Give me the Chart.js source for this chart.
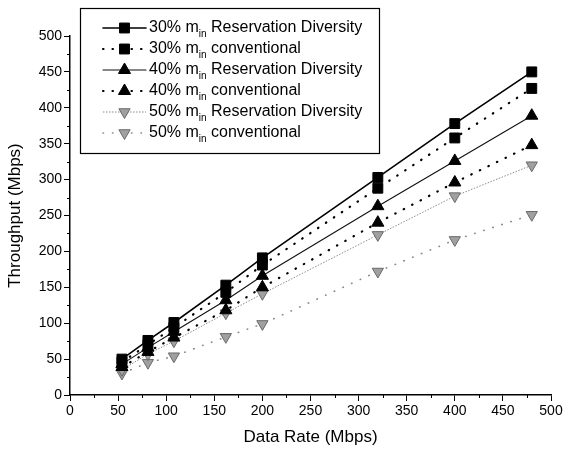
<!DOCTYPE html>
<html>
<head>
<meta charset="utf-8">
<script src="https://cdn.jsdelivr.net/npm/chart.js@4/dist/chart.umd.min.js"></script>
<style>
  html, body { margin: 0; padding: 0; background: #fff; }
  #wrap { width: 566px; height: 455px; position: relative; }
</style>
</head>
<body>
<div id="wrap"><canvas id="tputChart" width="566" height="455"></canvas></div>
<script>
// data rates (Mbps) on the x axis
var rates = [54, 81, 108, 162, 200, 320, 400, 480];

// throughput (Mbps)
var rd30   = [50, 76, 101, 153, 191, 303, 378, 450];
var conv30 = [46, 70, 94, 143, 181, 288, 358, 427];
var rd40   = [43, 66, 88, 132, 166, 263, 326, 389];
var conv40 = [39, 60, 80, 118, 150, 240, 296, 348];
var rd50   = [35, 57, 75, 114, 141, 223, 277, 320];
var conv50 = [30, 45, 54, 81, 99, 172, 216, 251];

var pct = ["30%", "30%", "40%", "40%", "50%", "50%"];
var kind = ["Reservation Diversity", "conventional", "Reservation Diversity", "conventional", "Reservation Diversity", "conventional"];

var xTicks = [0, 50, 100, 150, 200, 250, 300, 350, 400, 450, 500];
var yTicks = [0, 50, 100, 150, 200, 250, 300, 350, 400, 450, 500];

Chart.defaults.font.family = "'Liberation Sans', Arial, sans-serif";
Chart.defaults.color = "#000";

function pts(arr) {
  return arr.map(function (v, i) { return { x: rates[i], y: v }; });
}

function series(label, arr, style) {
  return Object.assign({
    label: label,
    data: pts(arr),
    showLine: true,
    fill: false,
    tension: 0,
    borderCapStyle: "round"
  }, style);
}

var datasets = [
  series("30% rd", rd30, { borderColor: "#000", borderWidth: 1.6, borderDash: [],
    pointStyle: "rect", pointRadius: 7, pointBackgroundColor: "#000", pointBorderColor: "#000", pointBorderWidth: 1 }),
  series("30% conv", conv30, { borderColor: "#000", borderWidth: 2.2, borderDash: [0.5, 9],
    pointStyle: "rect", pointRadius: 7, pointBackgroundColor: "#000", pointBorderColor: "#000", pointBorderWidth: 1 }),
  series("40% rd", rd40, { borderColor: "#111", borderWidth: 1.1, borderDash: [],
    pointStyle: "triangle", pointRadius: 7, pointBackgroundColor: "#000", pointBorderColor: "#000", pointBorderWidth: 1 }),
  series("40% conv", conv40, { borderColor: "#000", borderWidth: 2.2, borderDash: [0.5, 9],
    pointStyle: "triangle", pointRadius: 7, pointBackgroundColor: "#000", pointBorderColor: "#000", pointBorderWidth: 1 }),
  series("50% rd", rd50, { borderColor: "#8a8a8a", borderWidth: 1, borderDash: [1.5, 1.5], borderCapStyle: "butt",
    pointStyle: "triangle", pointRotation: 180, pointRadius: 6.5, pointBackgroundColor: "#a0a0a0", pointBorderColor: "#6a6a6a", pointBorderWidth: 1 }),
  series("50% conv", conv50, { borderColor: "#8a8a8a", borderWidth: 1.6, borderDash: [0.5, 9],
    pointStyle: "triangle", pointRotation: 180, pointRadius: 6.5, pointBackgroundColor: "#a0a0a0", pointBorderColor: "#6a6a6a", pointBorderWidth: 1 })
];

function drawMarker(ctx, ds, x, y) {
  var r = ds.pointRadius;
  ctx.save();
  ctx.fillStyle = ds.pointBackgroundColor;
  ctx.strokeStyle = ds.pointBorderColor;
  ctx.lineWidth = ds.pointBorderWidth;
  ctx.setLineDash([]);
  ctx.beginPath();
  if (ds.pointStyle === "rect") {
    var s = r * Math.SQRT1_2;
    ctx.rect(x - s, y - s, 2 * s, 2 * s);
  } else {
    var a = (ds.pointRotation || 0) * Math.PI / 180;
    for (var k = 0; k < 3; k++) {
      var ang = a + k * 2 * Math.PI / 3;
      var px = x + Math.sin(ang) * r, py = y - Math.cos(ang) * r;
      if (k === 0) ctx.moveTo(px, py); else ctx.lineTo(px, py);
    }
    ctx.closePath();
  }
  ctx.fill();
  ctx.stroke();
  ctx.restore();
}

// minor ticks every 25 and the boxed legend with subscripts
var extras = {
  id: "extras",
  afterDraw: function (chart) {
    var ctx = chart.ctx;
    var xs = chart.scales.x, ys = chart.scales.y;
    var area = chart.chartArea;
    ctx.save();
    ctx.strokeStyle = "#000";
    ctx.lineWidth = 1;
    for (var v = 25; v < 500; v += 50) {
      var px = Math.round(xs.getPixelForValue(v)) + 0.5;
      ctx.beginPath(); ctx.moveTo(px, area.bottom); ctx.lineTo(px, area.bottom + 3); ctx.stroke();
      var py = Math.round(ys.getPixelForValue(v)) + 0.5;
      ctx.beginPath(); ctx.moveTo(area.left, py); ctx.lineTo(area.left - 3, py); ctx.stroke();
    }

    // legend box
    var bx = 80.5, by = 8.5, bw = 299, bh = 145;
    ctx.fillStyle = "#fff";
    ctx.fillRect(bx, by, bw, bh);
    ctx.strokeStyle = "#000";
    ctx.lineWidth = 1.2;
    ctx.strokeRect(bx, by, bw, bh);

    for (var i = 0; i < datasets.length; i++) {
      var ds = datasets[i];
      var ry = 28 + i * 21;
      ctx.save();
      ctx.strokeStyle = ds.borderColor;
      ctx.lineWidth = ds.borderWidth;
      ctx.lineCap = ds.borderCapStyle;
      ctx.setLineDash(ds.borderDash);
      ctx.beginPath(); ctx.moveTo(103, ry); ctx.lineTo(146, ry); ctx.stroke();
      ctx.restore();
      drawMarker(ctx, ds, 124.5, ry);

      ctx.fillStyle = "#000";
      ctx.textBaseline = "middle";
      ctx.textAlign = "left";
      ctx.font = "16px 'Liberation Sans', Arial, sans-serif";
      var tx = 149;
      var t1 = pct[i] + " m";
      ctx.fillText(t1, tx, ry);
      tx += ctx.measureText(t1).width;
      ctx.font = "10px 'Liberation Sans', Arial, sans-serif";
      ctx.fillText("in", tx, ry + 6);
      tx += ctx.measureText("in").width;
      ctx.font = "16px 'Liberation Sans', Arial, sans-serif";
      ctx.fillText(" " + kind[i], tx, ry);
    }
    ctx.restore();
  }
};

var chartOptions = {
  responsive: false,
  animation: false,
  layout: { padding: { top: 36, right: 15, left: 0, bottom: 0 } },
  plugins: { legend: { display: false }, tooltip: { enabled: false } },
  elements: { point: { hoverRadius: 7 } },
  scales: {
    x: {
      type: "linear",
      min: 0,
      max: 500,
      afterBuildTicks: function (scale) { scale.ticks = xTicks.map(function (v) { return { value: v }; }); },
      afterFit: function (scale) { scale.height = 60; },
      ticks: { font: { size: 14 }, color: "#000", padding: 2, maxRotation: 0 },
      grid: { drawOnChartArea: false, drawTicks: true, tickLength: 6, tickColor: "#000", tickWidth: 1 },
      border: { display: true, color: "#000", width: 1.5 },
      title: { display: true, text: "Data Rate (Mbps)", font: { size: 17 }, color: "#000", padding: { top: 0, bottom: 7 } }
    },
    y: {
      type: "linear",
      min: 0,
      max: 500,
      afterBuildTicks: function (scale) { scale.ticks = yTicks.map(function (v) { return { value: v }; }); },
      afterFit: function (scale) { scale.width = 70; },
      ticks: { font: { size: 14 }, color: "#000", padding: 2 },
      grid: { drawOnChartArea: false, drawTicks: true, tickLength: 6, tickColor: "#000", tickWidth: 1 },
      border: { display: true, color: "#000", width: 1.5 },
      title: { display: true, text: "Throughput (Mbps)", font: { size: 17 }, color: "#000", padding: { top: 5, bottom: 0 } }
    }
  }
};

new Chart(document.getElementById("tputChart"), {
  type: "scatter",
  data: { datasets: datasets },
  options: chartOptions,
  plugins: [extras]
});
</script>
</body>
</html>
